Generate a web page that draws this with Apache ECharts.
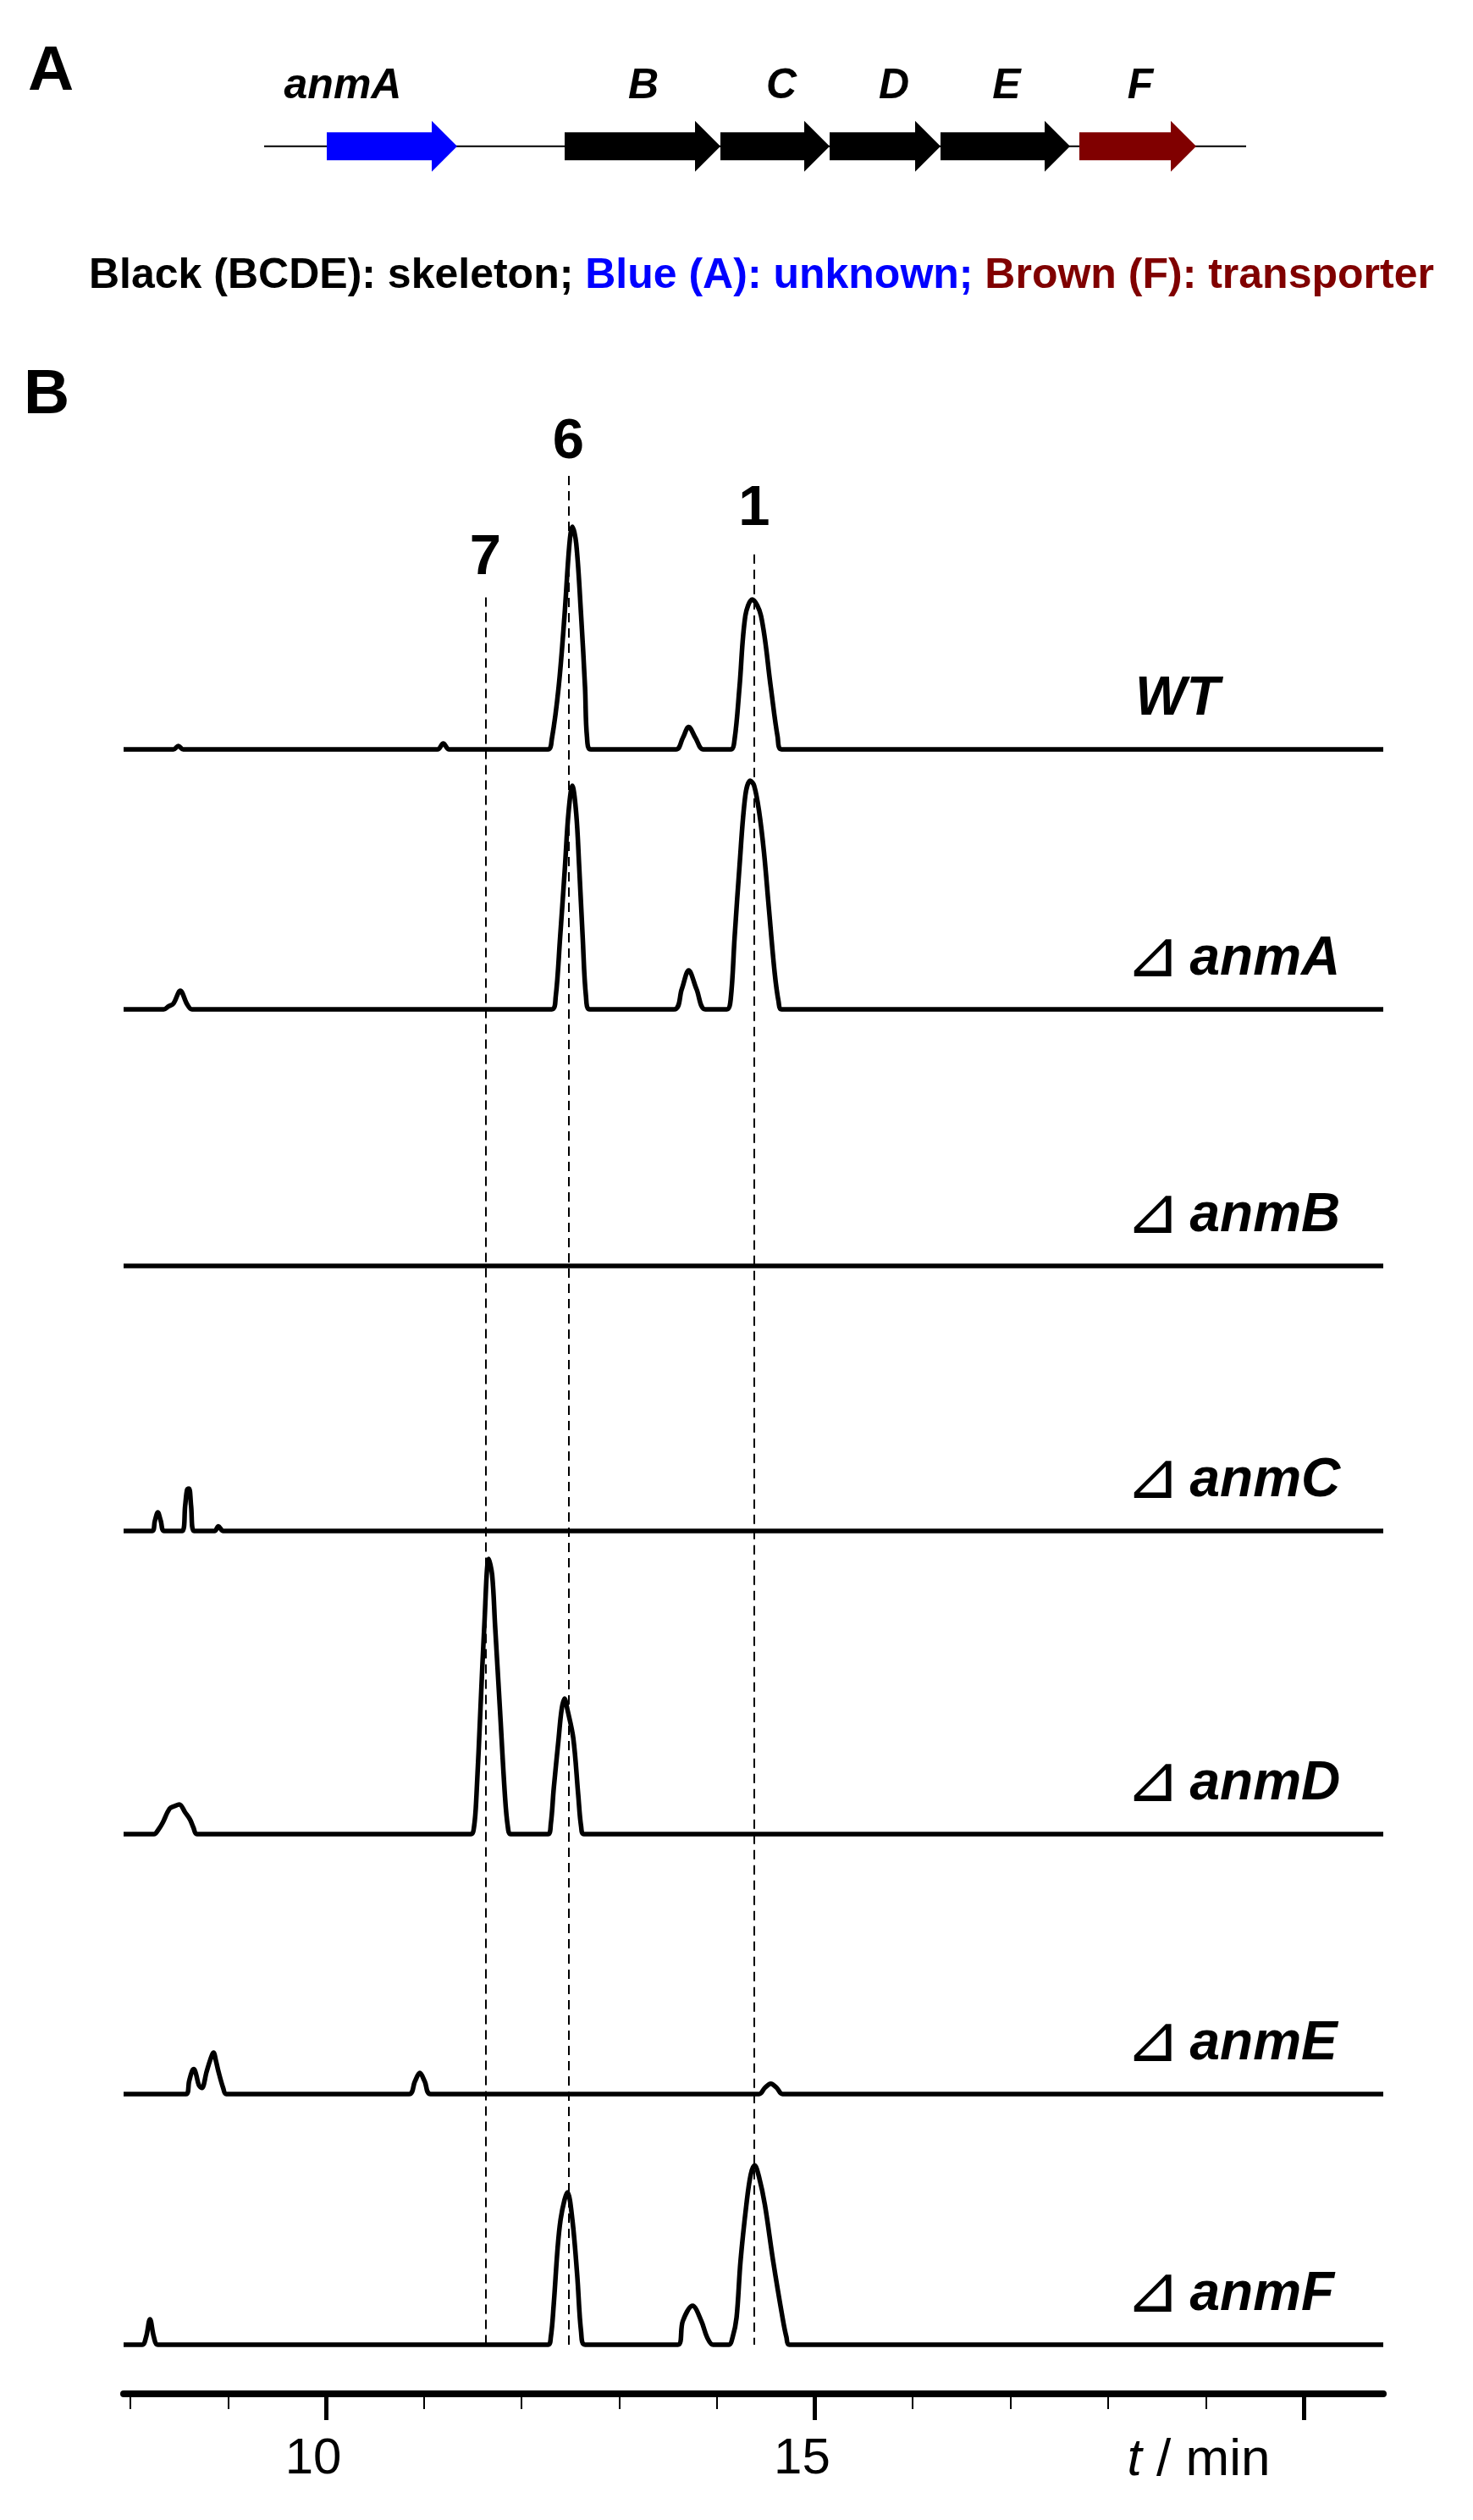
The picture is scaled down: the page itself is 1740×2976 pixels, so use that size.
<!DOCTYPE html>
<html>
<head>
<meta charset="utf-8">
<title>anm cluster and HPLC traces</title>
<script src="https://cdn.jsdelivr.net/npm/echarts@6/dist/echarts.min.js"></script>
<style>
  html, body { margin: 0; padding: 0; background: #fff; }
  #chart { width: 1740px; height: 2976px; }
</style>
</head>
<body>
<div id="chart"></div>
<script>
// ---- panel A: gene cluster, positions in kb from the left end of the drawn region
const geneNames = ['anmA', 'B', 'C', 'D', 'E', 'F'];
const geneStart = [0.74, 3.55, 5.39, 6.68, 7.99, 9.63];
const geneEnd = [2.28, 5.39, 6.68, 7.99, 9.52, 11.01];
const geneLabelAt = [0.93, 4.48, 6.11, 7.44, 8.77, 10.35];
const geneRole = ['unknown', 'skeleton', 'skeleton', 'skeleton', 'skeleton', 'transporter'];
const clusterLength = 11.6;

// ---- panel B: HPLC traces, [t / min, absorbance a.u.]
const traceNames = ['WT', 'anmA', 'anmB', 'anmC', 'anmD', 'anmE', 'anmF'];
const wtTrace = [
  [7.93, 0], [8.44, 0], [8.49, 1.3], [8.54, 0],
  [11.14, 0], [11.2, 2.3], [11.26, 0],
  [12.27, 0], [12.31, 4], [12.38, 24.5], [12.44, 52.6], [12.49, 80.7], [12.52, 87.7], [12.56, 81], [12.61, 52.6], [12.65, 24.5], [12.67, 4.9], [12.71, 0],
  [13.58, 0], [13.65, 4.5], [13.71, 8.8], [13.78, 4.5], [13.86, 0],
  [14.14, 0], [14.18, 4], [14.23, 24.5], [14.29, 52.6], [14.36, 59], [14.45, 52.6], [14.55, 24.5], [14.62, 4.9], [14.66, 0],
  [20.815, 0]
];
const anmATrace = [
  [7.93, 0], [8.34, 0], [8.39, 1.2], [8.44, 2.3], [8.51, 7.3], [8.58, 2], [8.63, 0],
  [12.31, 0], [12.35, 5], [12.395, 28.3], [12.445, 56.3], [12.48, 77], [12.52, 88], [12.56, 77], [12.59, 56.3], [12.626, 28.3], [12.66, 5], [12.7, 0],
  [13.56, 0], [13.64, 8], [13.71, 15.3], [13.79, 8], [13.88, 0],
  [14.1, 0], [14.14, 4], [14.18, 28.3], [14.23, 56.3], [14.29, 84.3], [14.34, 90], [14.38, 88], [14.43, 78], [14.48, 62], [14.53, 40], [14.59, 14.3], [14.63, 3], [14.66, 0],
  [20.815, 0]
];
const anmBTrace = [[7.93, 0], [20.815, 0]];
const anmCTrace = [
  [7.93, 0], [8.22, 0], [8.25, 4], [8.28, 7.3], [8.31, 4], [8.345, 0],
  [8.53, 0], [8.56, 10], [8.58, 16.3], [8.6, 16.7], [8.62, 10], [8.65, 0],
  [8.86, 0], [8.9, 1.8], [8.95, 0],
  [20.815, 0]
];
const anmDTrace = [
  [7.93, 0], [8.24, 0], [8.29, 2], [8.33, 4.5], [8.4, 10], [8.45, 11], [8.5, 11.7], [8.56, 8.5], [8.61, 5.7], [8.645, 2.5], [8.68, 0],
  [11.48, 0], [11.515, 3], [11.54, 15.6], [11.58, 48.9], [11.62, 82.2], [11.665, 108.3], [11.7, 102], [11.73, 82], [11.78, 48.9], [11.83, 15.6], [11.86, 3], [11.89, 0],
  [12.27, 0], [12.3, 4], [12.33, 18], [12.38, 37.7], [12.41, 48.9], [12.44, 53.3], [12.47, 49], [12.53, 37.7], [12.58, 15.6], [12.61, 3], [12.64, 0],
  [20.815, 0]
];
const anmETrace = [
  [7.93, 0], [8.57, 0], [8.6, 5], [8.63, 9], [8.65, 9.8], [8.67, 8], [8.7, 3.5], [8.73, 2.4], [8.78, 8.9], [8.815, 13.3], [8.85, 16.3], [8.875, 13], [8.9, 8.9], [8.95, 2.2], [8.98, 0],
  [10.85, 0], [10.91, 5], [10.96, 8.3], [11.01, 5], [11.07, 0],
  [14.43, 0], [14.49, 2.5], [14.55, 4.1], [14.61, 2.5], [14.67, 0],
  [20.815, 0]
];
const anmFTrace = [
  [7.93, 0], [8.12, 0], [8.16, 3], [8.2, 10], [8.24, 3], [8.28, 0],
  [12.27, 0], [12.3, 3], [12.33, 16], [12.37, 38.3], [12.4, 49.3], [12.44, 57], [12.47, 60], [12.52, 49.3], [12.57, 27.3], [12.61, 5], [12.65, 0],
  [13.6, 0], [13.65, 9.3], [13.75, 15.3], [13.84, 9.3], [13.9, 2.8], [13.96, 0],
  [14.12, 0], [14.16, 3], [14.2, 10.7], [14.24, 32.7], [14.3, 55], [14.345, 67], [14.385, 70.6], [14.43, 66], [14.49, 55], [14.575, 32.7], [14.67, 10.7], [14.71, 3], [14.74, 0],
  [20.815, 0]
];
const traces = [wtTrace, anmATrace, anmBTrace, anmCTrace, anmDTrace, anmETrace, anmFTrace];

const peakNames = ['7', '6', '1'];
const peakTimes = [11.63, 12.48, 14.38];

const tMin = 7.93;
const tMax = 20.815;
const majorTicks = [10, 15, 20];
const minorTicks = [8, 9, 11, 12, 13, 14, 16, 17, 18, 19];
const tickLabels = [10, 15];

// ---- layout and style
const FONT = '"Liberation Sans", Arial, Helvetica, sans-serif';
const roleColor = { skeleton: '#000000', unknown: '#0000ff', transporter: '#800000' };
const plotLeft = 146;
const plotRight = 106;
const baselines = [885, 1192, 1495, 1808, 2166, 2473, 2769];
const traceHeight = 360; // px for 120 a.u.
const yTop = 120;
const guideTop = 562;
const peakLineTop = [93.5, 100, 95.8]; // % of the guide area height
const peakLabelGap = [12, 6, 20];

const grids = [{ left: 312, right: 268, top: 122.7, height: 100 }];
baselines.forEach(b => grids.push({ left: plotLeft, right: plotRight, top: b - traceHeight, height: traceHeight }));
grids.push({ left: plotLeft, right: plotRight, top: guideTop, height: baselines[6] - guideTop });
grids.push({ left: plotLeft, right: plotRight, top: 2817, height: 10 });

const xAxes = [{ type: 'value', gridIndex: 0, min: 0, max: clusterLength, show: false }];
const yAxes = [{ type: 'value', gridIndex: 0, min: -1, max: 1, show: false }];
for (let i = 1; i <= 8; i++) {
  xAxes.push({ type: 'value', gridIndex: i, min: tMin, max: tMax, show: false });
  yAxes.push({ type: 'value', gridIndex: i, min: 0, max: i === 8 ? 100 : yTop, show: false });
}
xAxes.push({
  type: 'value', gridIndex: 9, min: tMin, max: tMax, position: 'bottom',
  axisLine: { show: true, lineStyle: { color: '#000', width: 8 } },
  axisTick: { show: true, customValues: minorTicks, length: 18, lineStyle: { color: '#000', width: 2 } },
  axisLabel: { show: false },
  splitLine: { show: false }
});
xAxes.push({
  type: 'value', gridIndex: 9, min: tMin, max: tMax, position: 'bottom',
  axisLine: { show: false },
  axisTick: { show: true, customValues: majorTicks, length: 31, lineStyle: { color: '#000', width: 5 } },
  axisLabel: {
    show: true, customValues: tickLabels, margin: 47, fontSize: 60,
    color: '#000', fontFamily: FONT, padding: [0, 30, 0, 0]
  },
  splitLine: { show: false }
});
yAxes.push({ type: 'value', gridIndex: 9, min: 0, max: 1, show: false });

const series = [];
// backbone of the cluster
series.push({
  type: 'line', xAxisIndex: 0, yAxisIndex: 0, silent: true, symbol: 'none',
  data: [[0, 0], [clusterLength, 0]],
  lineStyle: { color: '#000', width: 2 }, z: 1
});
// gene arrows
series.push({
  type: 'custom', xAxisIndex: 0, yAxisIndex: 0, silent: true, z: 2,
  data: geneNames.map((n, i) => [geneStart[i], geneEnd[i], geneLabelAt[i]]),
  renderItem: function (params, api) {
    const i = params.dataIndex;
    const s = api.coord([api.value(0), 0]);
    const e = api.coord([api.value(1), 0]);
    const lab = api.coord([api.value(2), 0]);
    const y = s[1];
    const body = 16.5, wing = 30, head = 30;
    const neck = e[0] - head;
    return {
      type: 'group',
      children: [
        {
          type: 'polygon',
          shape: { points: [[s[0], y - body], [neck, y - body], [neck, y - wing], [e[0], y], [neck, y + wing], [neck, y + body], [s[0], y + body]] },
          style: { fill: roleColor[geneRole[i]] }
        },
        {
          type: 'text', x: lab[0], y: y - 70,
          style: {
            text: geneNames[i], fill: '#000', textAlign: 'center', textVerticalAlign: 'middle',
            font: 'italic bold 50px ' + FONT
          }
        }
      ]
    };
  }
});
// chromatograms
traces.forEach((d, i) => {
  series.push({
    name: traceNames[i], type: 'line', xAxisIndex: i + 1, yAxisIndex: i + 1,
    data: d, symbol: 'none', showSymbol: false, smooth: 0.35, clip: false, silent: true,
    lineStyle: { color: '#000', width: 5.5, join: 'round' }, z: 3
  });
});
// retention-time guides
series.push({
  type: 'line', xAxisIndex: 8, yAxisIndex: 8, silent: true, symbol: 'none',
  data: peakTimes.map(t => [t, 0]), lineStyle: { opacity: 0 }, z: 4,
  markLine: {
    silent: true, animation: false, symbol: ['none', 'none'],
    lineStyle: { type: [11, 7], width: 2, color: '#000' },
    label: {
      show: true, position: 'start', formatter: '{b}', color: '#000',
      fontSize: 67, fontWeight: 'bold', fontFamily: FONT
    },
    data: peakNames.map((n, i) => [
      { name: n, coord: [peakTimes[i], peakLineTop[i]], label: { distance: peakLabelGap[i] } },
      { coord: [peakTimes[i], 0] }
    ])
  }
});

// texts
const graphics = [
  { type: 'text', x: 33, y: 85, style: { text: 'A', font: 'bold 75px ' + FONT, fill: '#000', textVerticalAlign: 'middle' } },
  { type: 'text', x: 28, y: 467, style: { text: 'B', font: 'bold 75px ' + FONT, fill: '#000', textVerticalAlign: 'middle' } },
  {
    type: 'text', x: 105, y: 326,
    style: {
      text: '{k|Black (BCDE): skeleton;}{u| Blue (A): unknown;}{t| Brown (F): transporter}',
      textVerticalAlign: 'middle',
      rich: {
        k: { fill: roleColor.skeleton, font: 'bold 50px ' + FONT },
        u: { fill: roleColor.unknown, font: 'bold 50px ' + FONT },
        t: { fill: roleColor.transporter, font: 'bold 50px ' + FONT }
      }
    }
  },
  {
    type: 'text', x: 1416, y: 2906,
    style: {
      text: '{i|t}{r| / min}', textAlign: 'center', textVerticalAlign: 'middle',
      rich: {
        i: { fill: '#000', font: 'italic 62px ' + FONT },
        r: { fill: '#000', font: '62px ' + FONT }
      }
    }
  }
];
traceNames.forEach((n, i) => {
  const isWild = n === 'WT';
  graphics.push({
    type: 'text', x: isWild ? 1341 : 1329, y: baselines[i] - 36 - 23,
    style: {
      text: isWild ? '{n|WT}' : '{d|⊿}{s| }{n|' + n + '}',
      textVerticalAlign: 'middle',
      rich: {
        d: { fill: '#000', font: '78px "DejaVu Sans", "Noto Sans CJK SC", sans-serif' },
        s: { fill: '#000', font: 'bold 40px ' + FONT },
        n: { fill: '#000', font: 'italic bold 64px ' + FONT }
      }
    }
  });
});

const chart = echarts.init(document.getElementById('chart'));
chart.setOption({
  animation: false,
  backgroundColor: '#ffffff',
  grid: grids,
  xAxis: xAxes,
  yAxis: yAxes,
  series: series,
  graphic: { elements: graphics }
});
</script>
</body>
</html>
